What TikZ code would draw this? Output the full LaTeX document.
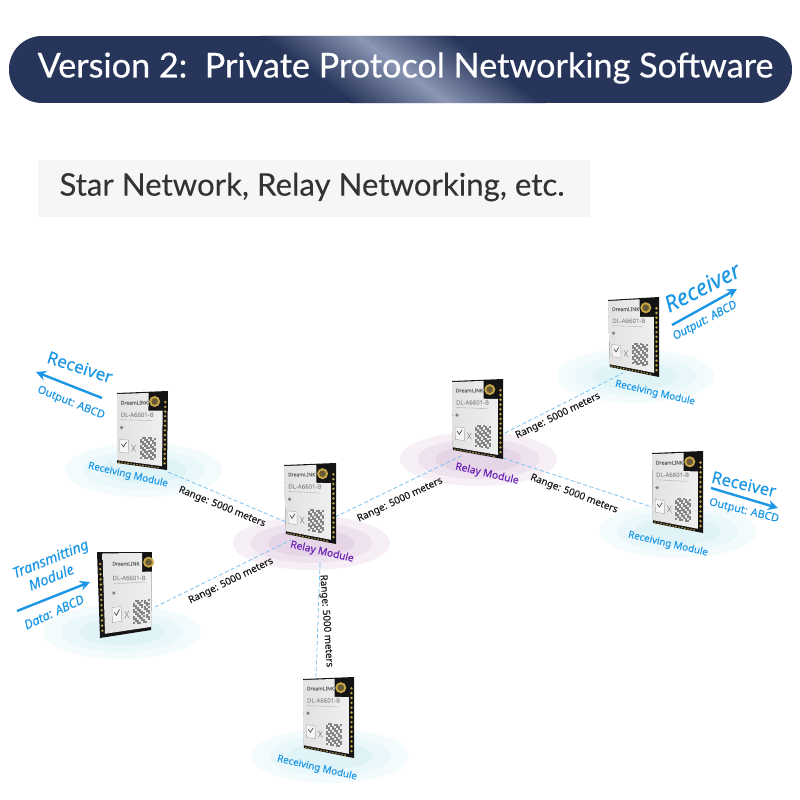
\documentclass[tikz,border=0pt]{standalone}
\usepackage{fontspec}
\usepackage{tikz}
\usetikzlibrary{arrows.meta,calc}
\setmainfont[FakeBold=.1]{Noto Sans}
\newfontfamily\titlefont[FakeBold=.5]{Lato}
\newfontfamily\subfont[FakeBold=.15]{Lato}
\definecolor{pillnavy}{HTML}{27355A}
\definecolor{pilllight}{HTML}{8B97B5}
\definecolor{subbg}{HTML}{F5F6F8}
\definecolor{subtext}{HTML}{333333}
\definecolor{linkblue}{HTML}{1C97E6}
\definecolor{dashblue}{HTML}{7CC3F0}
\definecolor{relaypurple}{HTML}{6B22B5}
\definecolor{cyana}{HTML}{F3FBFD}
\definecolor{cyanb}{HTML}{EBF8FB}
\definecolor{cyanc}{HTML}{E0F4F8}
\definecolor{purpa}{HTML}{F6EFF6}
\definecolor{purpb}{HTML}{EFE2EF}
\definecolor{purpc}{HTML}{E6D5E7}
\definecolor{chipblack}{HTML}{141414}
\definecolor{chipgold}{HTML}{C9A84C}
\definecolor{silvera}{HTML}{E2E2E3}
\definecolor{silverb}{HTML}{EFEFEF}
\tikzstyle{linkline}=[dashed,dashblue,line width=.8pt,dash pattern=on 4pt off 2.5pt]
\tikzstyle{bigarrow}=[linkblue,line width=2.4pt,-{Stealth[length=10pt,width=10pt]}]
\newcommand{\fsz}[1]{\fontsize{#1}{#1}\selectfont}
\newcommand{\rangenode}{\node[black!90,font=\fsz{9.8}]}
\newcommand{\recnode}{\node[linkblue,font=\fsz{9.8}]}
\newcommand{\relnode}{\node[relaypurple,font=\fsz{10.2}]}
\newcommand{\outnode}{\node[linkblue,font=\fsz{10.8}]}
% point in a chip, from its four corners
\newcommand{\pt}[2]{($($(tl)!#1!(tr)$)!#2!($(bl)!#1!(br)$)$)}
% name, corners tl tr bl br, shift of the contents
\newcommand{\chip}[6]{
  \coordinate (tl) at (#2); \coordinate (tr) at (#3);
  \coordinate (bl) at (#4); \coordinate (br) at (#5);
  \pgfmathsetmacro{\sa}{#6/2}
  \pgfmathsetmacro{\sb}{.9+#6/2}
  \pgfmathsetmacro{\na}{.62+#6}
  \pgfmathsetmacro{\pu}{.95-#6*4.5}
  \pgfmathsetmacro{\bp}{#6==0?100:0}
  \fill[chipblack] (tl) -- (tr) -- (br) -- (bl) -- cycle;
  \shade[left color=silvera,right color=silverb] \pt{\sa}{.015} -- \pt{\na}{.015} -- \pt{\na}{.25} -- \pt{\sb}{.25} -- \pt{\sb}{.96} -- \pt{\sa}{.96} -- cycle;
  \foreach \vy in {.14,.2,...,.96} \fill[chipgold] \pt{\pu}{\vy} circle (1.3);
  \foreach \ux in {.04,.1,...,.88} \fill[chipgold!\bp!chipblack] \pt{\ux}{.985} circle (.8);
  \pgfmathsetmacro{\au}{.74+#6}
  \fill[chipgold] \pt{\au}{.13} circle (5.5);
  \fill[black!45!chipgold] \pt{\au}{.13} circle (3.4);
  \fill[black!65] \pt{\au}{.13} circle (1.5);
  \pgfmathsetmacro{\tu}{.07+#6}
  \node[anchor=west,inner sep=0,black!60,font=\fsz{5}] (#1logo) at \pt{\tu}{.14} {DreamLINK};
  \node[anchor=west,inner sep=0,black!40,font=\fsz{6}] (#1part) at \pt{\tu}{.31} {DL-A6601-B};
  \pgfmathsetmacro{\tv}{\tu+.62}
  \draw[black!25,line width=.6pt] \pt{\tu}{.38} -- \pt{\tv}{.38};
  \pgfmathsetmacro{\du}{.09+#6}
  \fill[black!50] \pt{\du}{.49} circle (1.8);
  \pgfmathsetmacro{\bu}{.05+#6}
  \pgfmathsetmacro{\bv}{.23+#6}
  \draw[black!35,line width=.4pt,fill=white!92!gray] \pt{\bu}{.66} -- \pt{\bv}{.66} -- \pt{\bv}{.84} -- \pt{\bu}{.84} -- cycle;
  \pgfmathsetmacro{\ca}{.09+#6}
  \pgfmathsetmacro{\cb}{.13+#6}
  \pgfmathsetmacro{\cc}{.19+#6}
  \draw[black!75,line width=.6pt] \pt{\ca}{.72} -- \pt{\cb}{.76} -- \pt{\cc}{.69};
  \pgfmathsetmacro{\xa}{.29+#6}
  \pgfmathsetmacro{\xb}{.37+#6}
  \draw[black!50,line width=.4pt] \pt{\xa}{.72} -- \pt{\xb}{.81} \pt{\xb}{.72} -- \pt{\xa}{.81};
  \pgfmathsetmacro{\qa}{.46+#6}
  \pgfmathsetmacro{\qb}{.78+#6}
  \fill[white!85!gray] \pt{\qa}{.6} -- \pt{\qb}{.6} -- \pt{\qb}{.9} -- \pt{\qa}{.9} -- cycle;
  \foreach \i in {0,...,7} \foreach \j in {0,...,10} {
    \pgfmathsetmacro{\on}{mod(\i*\i+3*\j+\i*\j+\j*\j,3)}
    \ifdim\on pt=0pt\else
      \pgfmathsetmacro{\ux}{.47+#6+\i*.04}
      \pgfmathsetmacro{\vy}{.615+\j*.027}
      \fill[black!48] \pt{\ux}{\vy} ++(-1,-1) rectangle ++(2,2);
    \fi
  }
}
% name, centre, ring colours
\newcommand{\rings}[5]{
  \fill[#3] (#2) ellipse [x radius=78.5,y radius=27];
  \fill[#4] (#2) ellipse [x radius=61,y radius=20];
  \fill[#5] (#2) ellipse [x radius=43,y radius=13.5];
  \coordinate (#1) at (#2);
}
\begin{document}
\begin{tikzpicture}[x=1pt,y=-1pt]
  \useasboundingbox (0,0) rectangle (800,800);
  \fill[white] (0,0) rectangle (800,800);
  % title bar
  \begin{scope}
    \clip[rounded corners=33pt] (9,36) rectangle (792,103);
    \fill[pillnavy] (9,36) rectangle (792,103);
    \foreach \i in {0,...,38} {
      \pgfmathsetmacro{\m}{100*(1-abs(\i-19)/19)}
      \pgfmathsetmacro{\xa}{260+\i*5}
      \pgfmathsetmacro{\xb}{\xa+5.6}
      \pgfmathsetmacro{\xc}{\xb+90}
      \pgfmathsetmacro{\xd}{\xa+90}
      \fill[pilllight!\m!pillnavy] (\xa,36) -- (\xb,36) -- (\xc,103) -- (\xd,103) -- cycle;
    }
  \end{scope}
  \node[white,inner sep=0,font=\titlefont\fsz{34.2}] (title) at (405.5,68) {Version 2:\ \ Private Protocol Networking Software};
  \fill[subbg] (38,160) rectangle (590,217);
  \node[subtext,inner sep=0,font=\subfont\fsz{31.2}] (subtitle) at (312,187) {Star Network, Relay Networking, etc.};

  \rings{gndleft}{143.5,470}{cyana}{cyanb}{cyanc}
  \rings{gndsend}{122,632}{cyana}{cyanb}{cyanc}
  \rings{gndrelaya}{311.5,543}{purpa}{purpb}{purpc}
  \rings{gndrelayb}{478.5,459}{purpa}{purpb}{purpc}
  \rings{gndtop}{635.5,376}{cyana}{cyanb}{cyanc}
  \rings{gndright}{678,531}{cyana}{cyanb}{cyanc}
  \rings{gndbottom}{330,756}{cyana}{cyanb}{cyanc}

  \coordinate (lefte) at (168,472);
  \coordinate (relayaw) at (286,522);
  \coordinate (sende) at (155,607);
  \coordinate (relayas) at (291,540);
  \coordinate (relayae) at (335,517);
  \coordinate (relaybw) at (463,455);
  \coordinate (relaybn) at (505,433);
  \coordinate (tops) at (623,373);
  \coordinate (relaybe) at (503,458);
  \coordinate (rightw) at (652,507);
  \coordinate (relayab) at (320,563);
  \coordinate (bottomn) at (316,677);
  \draw[linkline] (lefte) -- (relayaw);
  \draw[linkline] (sende) -- (relayas);
  \draw[linkline] (relayae) -- (relaybw);
  \draw[linkline] (relaybn) -- (tops);
  \draw[linkline] (relaybe) -- (rightw);
  \draw[linkline] (relayab) -- (bottomn);

  \chip{left}{117,393}{168,391}{117,463}{167,470}{0}
  \chip{send}{97,552}{152,552}{100,638}{151,630}{.2}
  \chip{relaya}{284,465}{336,463}{286,534}{336,544}{0}
  \chip{relayb}{452,381}{503,379}{453,450}{503,459}{0}
  \chip{top}{608,300}{659,297}{610,367}{659,377}{0}
  \chip{right}{652,453}{703,451}{653,523}{703,533}{0}
  \chip{bottom}{303,679}{354,677}{304,748}{354,758}{0}

  \rangenode[rotate=-22] (rangea) at (222,507) {Range: 5000 meters};
  \rangenode[rotate=26] (rangeb) at (231,581) {Range: 5000 meters};
  \rangenode[rotate=25] (rangec) at (400,500) {Range: 5000 meters};
  \rangenode[rotate=26] (ranged) at (558,416) {Range: 5000 meters};
  \rangenode[rotate=-21] (rangee) at (574,494) {Range: 5000 meters};
  \rangenode[rotate=-86] (rangef) at (326,621) {Range: 5000 meters};

  \recnode[rotate=-13] (recleft) at (128,475) {Receiving Module};
  \relnode[rotate=-13] (relaya) at (322,552) {Relay Module};
  \relnode[rotate=-13] (relayb) at (487,474) {Relay Module};
  \recnode[rotate=-13] (rectop) at (655,393) {Receiving Module};
  \recnode[rotate=-13] (recright) at (668,544) {Receiving Module};
  \recnode[rotate=-13] (recbottom) at (317,768) {Receiving Module};

  % left receiver
  \node[linkblue,rotate=-18,font=\fsz{17}] (rxleft) at (80,367) {Receiver};
  \coordinate (rxlefta) at (102,398);
  \coordinate (rxleftb) at (36,372);
  \draw[bigarrow] (rxlefta) -- (rxleftb);
  \outnode[rotate=-22] (outleft) at (71,403) {Output: ABCD};
  % transmitter
  \node[linkblue,rotate=22,font=\itshape\fsz{14.3}] (txa) at (51,560) {Transmitting};
  \node[linkblue,rotate=22,font=\itshape\fsz{14.3}] (txb) at (51,577) {Module};
  \coordinate (txlefta) at (17,611);
  \coordinate (txleftb) at (90,582);
  \draw[bigarrow] (txlefta) -- (txleftb);
  \outnode[rotate=25,font=\itshape\fsz{12.5}] (datatx) at (54,612) {Data: ABCD};
  % top receiver
  \node[linkblue,rotate=27,font=\itshape\fsz{22.5}] (rxtop) at (702,287) {Receiver};
  \coordinate (rxtopa) at (672,325);
  \coordinate (rxtopb) at (737,289);
  \draw[bigarrow] (rxtopa) -- (rxtopb);
  \outnode[rotate=28,font=\itshape\fsz{11.5}] (outtop) at (705,321) {Output: ABCD};
  % right receiver
  \node[linkblue,rotate=-13,font=\fsz{16.5}] (rxright) at (744,484) {Receiver};
  \coordinate (rxrighta) at (711,488);
  \coordinate (rxrightb) at (778,508);
  \draw[bigarrow] (rxrighta) -- (rxrightb);
  \outnode[rotate=-14] (outright) at (744,511) {Output: ABCD};
\end{tikzpicture}
\end{document}
